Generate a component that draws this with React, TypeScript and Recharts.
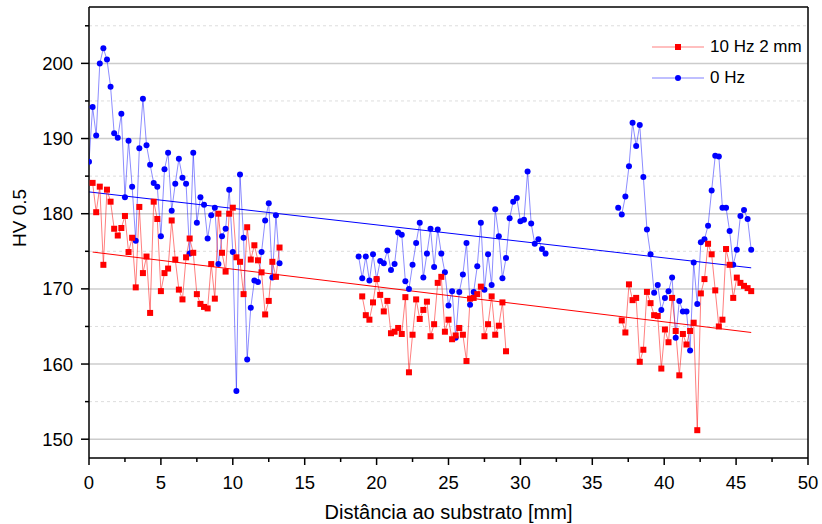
import { LineChart, Line, XAxis, YAxis, ReferenceLine, CartesianGrid, Legend } from 'recharts';

const FONT = "'Liberation Sans', Arial, sans-serif";

// 0 Hz (blue), three measured zones
const blueX1 = [0, 0.25, 0.5, 0.75, 1, 1.25, 1.5, 1.75, 2, 2.25, 2.5, 2.75, 3, 3.25, 3.5, 3.75, 4, 4.25, 4.5, 4.75,
  5, 5.25, 5.5, 5.75, 6, 6.25, 6.5, 6.75, 7, 7.25, 7.5, 7.75, 8, 8.25, 8.5, 8.75, 9, 9.25, 9.5, 9.75,
  10, 10.25, 10.5, 10.75, 11, 11.25, 11.5, 11.75, 12, 12.25, 12.5, 12.75, 13, 13.25];
const blueY1 = [186.9, 194.2, 190.4, 200.0, 202.0, 200.5, 196.9, 190.7, 190.1, 193.3, 182.2, 189.7, 183.6, 176.4, 188.7, 195.3, 189.1, 186.5, 184.1, 183.6,
  177.0, 185.9, 188.1, 180.4, 184.0, 187.3, 184.8, 184.0, 174.7, 188.1, 178.8, 182.2, 181.2, 176.7, 179.8, 180.8, 173.3, 177.0, 178.0, 183.2,
  174.9, 156.4, 185.2, 176.8, 160.6, 167.5, 171.1, 170.9, 174.9, 179.1, 181.4, 171.5, 179.8, 173.4];

const blueX2 = [18.75, 19, 19.25, 19.5, 19.75, 20, 20.25, 20.5, 20.75, 21, 21.25, 21.5, 21.75, 22, 22.25, 22.5, 22.75, 23, 23.25, 23.5,
  23.75, 24, 24.25, 24.5, 24.75, 25, 25.25, 25.5, 25.75, 26, 26.25, 26.5, 26.75, 27, 27.25, 27.5, 27.75, 28, 28.25, 28.5,
  28.75, 29, 29.25, 29.5, 29.75, 30, 30.25, 30.5, 30.75, 31, 31.25, 31.5, 31.75];
const blueY2 = [174.3, 171.4, 174.3, 171.1, 174.6, 171.3, 173.7, 173.4, 175.1, 172.5, 173.3, 177.5, 177.2, 171.0, 170.0, 173.2, 176.1, 178.8, 171.5, 174.7,
  178.0, 172.9, 177.9, 174.7, 172.2, 167.8, 169.7, 163.5, 169.6, 171.9, 176.1, 167.9, 169.6, 173.0, 178.8, 169.9, 174.6, 170.5, 180.6, 177.0,
  171.4, 174.1, 179.4, 181.6, 182.1, 179.0, 179.2, 185.6, 178.7, 176.0, 176.6, 175.3, 174.7];

const blueX3 = [36.8, 37.05, 37.3, 37.55, 37.8, 38.05, 38.3, 38.55, 38.8, 39.05, 39.3, 39.55, 39.8, 40.05, 40.3, 40.55, 40.8, 41.05, 41.3, 41.55,
  41.8, 42.05, 42.3, 42.55, 42.8, 43.05, 43.3, 43.55, 43.8, 44.05, 44.3, 44.55, 44.8, 45.05, 45.3, 45.55, 45.8, 46.05];
const blueY3 = [180.8, 179.9, 182.3, 186.3, 192.1, 189.0, 191.8, 184.9, 177.9, 174.6, 169.5, 170.5, 167.2, 168.8, 169.7, 171.5, 163.5, 168.4, 167.0, 167.0,
  161.8, 173.5, 168.0, 176.2, 176.6, 178.4, 183.1, 187.7, 187.6, 180.8, 180.8, 177.7, 173.2, 175.2, 179.7, 180.5, 179.3, 175.2];

// 10 Hz 2 mm (red)
const redX1 = [0.25, 0.5, 0.75, 1, 1.25, 1.5, 1.75, 2, 2.25, 2.5, 2.75, 3, 3.25, 3.5, 3.75, 4, 4.25, 4.5, 4.75,
  5, 5.25, 5.5, 5.75, 6, 6.25, 6.5, 6.75, 7, 7.25, 7.5, 7.75, 8, 8.25, 8.5, 8.75, 9, 9.25, 9.5, 9.75,
  10, 10.25, 10.5, 10.75, 11, 11.25, 11.5, 11.75, 12, 12.25, 12.5, 12.75, 13, 13.25];
const redY1 = [184.1, 180.2, 183.6, 173.2, 183.2, 181.6, 178.0, 177.1, 178.1, 179.7, 174.9, 176.8, 170.2, 180.9, 172.1, 174.3, 166.8, 181.6, 179.3,
  169.7, 172.1, 172.7, 179.1, 173.9, 169.9, 168.6, 174.2, 176.7, 174.8, 169.3, 168.0, 167.6, 167.4, 173.3, 168.7, 180.0, 174.8, 172.3, 180.0,
  180.8, 174.2, 173.6, 169.3, 178.2, 173.9, 175.8, 173.8, 172.2, 166.6, 168.4, 173.6, 171.6, 175.5];

const redX2 = [19, 19.25, 19.5, 19.75, 20, 20.25, 20.5, 20.75, 21, 21.25, 21.5, 21.75, 22, 22.25, 22.5, 22.75, 23, 23.25, 23.5, 23.75,
  24, 24.25, 24.5, 24.75, 25, 25.25, 25.5, 25.75, 26, 26.25, 26.5, 26.75, 27, 27.25, 27.5, 27.75, 28, 28.25, 28.5, 28.75, 29];
const redY2 = [169.0, 166.5, 165.9, 168.2, 171.3, 169.2, 167.0, 168.4, 164.1, 164.3, 164.8, 164.0, 168.9, 158.9, 163.9, 168.6, 166.0, 167.2, 168.3, 163.7,
  165.3, 170.8, 171.6, 164.3, 165.9, 163.3, 163.8, 164.8, 163.9, 160.4, 168.7, 168.8, 169.3, 170.3, 163.7, 165.3, 169.0, 163.9, 165.1, 168.2, 161.7];

const redX3 = [37.05, 37.3, 37.55, 37.8, 38.05, 38.3, 38.55, 38.8, 39.05, 39.3, 39.55, 39.8, 40.05, 40.3, 40.55, 40.8, 41.05, 41.3, 41.55,
  41.8, 42.05, 42.3, 42.55, 42.8, 43.05, 43.3, 43.55, 43.8, 44.05, 44.3, 44.55, 44.8, 45.05, 45.3, 45.55, 45.8, 46.05];
const redY3 = [165.8, 164.2, 170.6, 168.5, 168.8, 160.3, 161.9, 169.6, 168.1, 166.5, 166.4, 159.4, 164.6, 162.9, 168.8, 164.4, 158.5, 164.0, 162.6,
  164.4, 165.5, 151.2, 169.4, 171.3, 176.0, 174.6, 169.8, 165.0, 165.9, 175.3, 173.2, 168.8, 171.5, 170.8, 170.4, 170.1, 169.7];

// linear fits
const blueFitX = [0, 46.05];
const blueFitY = [182.9, 172.8];
const redFitX = [0.25, 46.05];
const redFitY = [174.9, 164.2];

const xTicks = [0, 2.5, 5, 7.5, 10, 12.5, 15, 17.5, 20, 22.5, 25, 27.5, 30, 32.5, 35, 37.5, 40, 42.5, 45, 47.5, 50];
const yTicks = [150, 155, 160, 165, 170, 175, 180, 185, 190, 195, 200, 205];
const yMajor = [150, 160, 170, 180, 190, 200];
const yMinor = [155, 165, 175, 185, 195, 205];

type Pt = { x: number; y: number | null };

function joinSegments(xs: number[][], ys: number[][]): Pt[] {
  const out: Pt[] = [];
  xs.forEach((seg, i) => {
    if (i > 0) {
      const prev = xs[i - 1];
      out.push({ x: (prev[prev.length - 1] + seg[0]) / 2, y: null });
    }
    seg.forEach((x, j) => out.push({ x, y: ys[i][j] }));
  });
  return out;
}

const blueData = joinSegments([blueX1, blueX2, blueX3], [blueY1, blueY2, blueY3]);
const redData = joinSegments([redX1, redX2, redX3], [redY1, redY2, redY3]);
const blueFit = blueFitX.map((x, i) => ({ x, y: blueFitY[i] }));
const redFit = redFitX.map((x, i) => ({ x, y: redFitY[i] }));

const SquareDot = (props: any) => {
  const { cx, cy, index } = props;
  if (cy == null || isNaN(cy)) return <g key={`s-${index}`} />;
  return <rect key={`s-${index}`} x={cx - 3} y={cy - 3} width={6} height={6} fill="#ff0000" />;
};

const CircleDot = (props: any) => {
  const { cx, cy, index } = props;
  if (cy == null || isNaN(cy)) return <g key={`c-${index}`} />;
  return <circle key={`c-${index}`} cx={cx} cy={cy} r={3} fill="#0000ff" />;
};

const XTick = (props: any) => {
  const { x, y, payload } = props;
  const major = payload.value % 5 === 0;
  return (
    <g>
      <line x1={x} x2={x} y1={y} y2={y + (major ? 7 : 4)} stroke="#000" strokeWidth={1.5} />
      {major && (
        <text x={x} y={y + 31} textAnchor="middle" fontSize={18.5} fontFamily={FONT} fill="#000">
          {payload.value}
        </text>
      )}
    </g>
  );
};

const YTick = (props: any) => {
  const { x, y, payload } = props;
  const major = payload.value % 10 === 0;
  return (
    <g>
      <line x1={x - (major ? 8 : 4)} x2={x} y1={y} y2={y} stroke="#000" strokeWidth={1.5} />
      {major && (
        <text x={x - 16} y={y + 6.6} textAnchor="end" fontSize={18.5} fontFamily={FONT} fill="#000">
          {payload.value}
        </text>
      )}
    </g>
  );
};

const legendItems = [
  { name: '10 Hz 2 mm', color: '#ff0000', shape: 'square' },
  { name: '0 Hz', color: '#0000ff', shape: 'circle' },
];

const renderLegend = () => (
  <div style={{ fontFamily: FONT, fontSize: 17, color: '#000' }}>
    {legendItems.map((item) => (
      <div key={item.name} style={{ display: 'flex', alignItems: 'center', height: 20, marginBottom: 11 }}>
        <svg width={60} height={20}>
          <line x1={2} x2={54} y1={10} y2={10} stroke={item.color} strokeOpacity={0.5} strokeWidth={1} />
          {item.shape === 'square'
            ? <rect x={25} y={7} width={6} height={6} fill={item.color} />
            : <circle cx={28} cy={10} r={3} fill={item.color} />}
        </svg>
        <span>{item.name}</span>
      </div>
    ))}
  </div>
);

export default function App() {
  return (
    <div style={{ position: 'absolute', left: 0, top: 0, background: '#fff' }}>
      <LineChart width={822} height={524} margin={{ top: 7, right: 14, bottom: 0, left: 0 }}>
        <CartesianGrid vertical={false} horizontalValues={yMajor} stroke="#cccccc" strokeWidth={1.5} />
        <CartesianGrid vertical={false} horizontalValues={yMinor} stroke="#dddddd" strokeDasharray="3 3" />
        <XAxis
          type="number"
          dataKey="x"
          domain={[0, 50]}
          ticks={xTicks}
          interval={0}
          height={66}
          tickSize={0}
          tickMargin={0}
          tickLine={false}
          tick={<XTick />}
          axisLine={{ stroke: '#000', strokeWidth: 1.5 }}
          allowDataOverflow
          label={{
            content: () => (
              <text x={448.5} y={519} textAnchor="middle" fontSize={20} fontFamily={FONT} fill="#000">
                Distância ao substrato [mm]
              </text>
            ),
          }}
        />
        <YAxis
          type="number"
          domain={[147.5, 207.5]}
          ticks={yTicks}
          interval={0}
          width={89}
          tickSize={0}
          tickMargin={0}
          tickLine={false}
          tick={<YTick />}
          axisLine={{ stroke: '#000', strokeWidth: 1.5 }}
          allowDataOverflow
          label={{
            content: () => (
              <text x={0} y={0} transform="translate(26,218) rotate(-90)" textAnchor="middle" fontSize={19} fontFamily={FONT} fill="#000">
                HV 0.5
              </text>
            ),
          }}
        />
        <ReferenceLine y={207.5} stroke="#000" strokeWidth={1.5} />
        <ReferenceLine x={50} stroke="#000" strokeWidth={1.5} />
        <Line data={blueFit} dataKey="y" stroke="#0000ff" strokeWidth={1} dot={false} isAnimationActive={false} legendType="none" />
        <Line data={redFit} dataKey="y" stroke="#ff0000" strokeWidth={1} dot={false} isAnimationActive={false} legendType="none" />
        <Line
          data={blueData}
          dataKey="y"
          name="0 Hz"
          stroke="#0000ff"
          strokeOpacity={0.45}
          strokeWidth={1}
          dot={CircleDot}
          activeDot={false}
          connectNulls={false}
          isAnimationActive={false}
        />
        <Line
          data={redData}
          dataKey="y"
          name="10 Hz 2 mm"
          stroke="#ff0000"
          strokeOpacity={0.5}
          strokeWidth={1}
          dot={SquareDot}
          activeDot={false}
          connectNulls={false}
          isAnimationActive={false}
        />
        <Legend
          layout="vertical"
          align="center"
          verticalAlign="middle"
          content={renderLegend}
          wrapperStyle={{ top: 37, left: 650, width: 'auto', height: 'auto' }}
        />
      </LineChart>
    </div>
  );
}
